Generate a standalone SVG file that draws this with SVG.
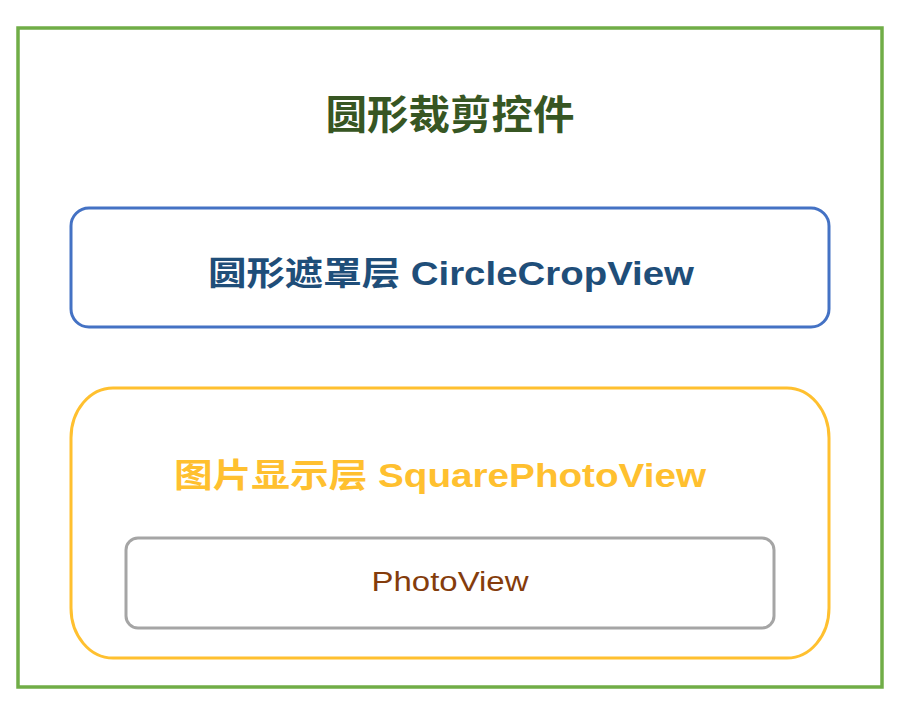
<svg xmlns="http://www.w3.org/2000/svg" width="902" height="724" viewBox="0 0 902 724">
<style>
text{font-family:"Liberation Sans","Noto Sans CJK SC",sans-serif;text-anchor:middle}
.b{font-weight:bold}
</style>
<rect width="902" height="724" fill="#fff"/>
<g id="container">
<rect x="18" y="28" width="864" height="659" fill="none" stroke="#70AD47" stroke-width="3.5"/>
<text x="450" y="129" class="b" font-size="40" fill="#375623" textLength="249" lengthAdjust="spacingAndGlyphs">圆形裁剪控件</text>
</g>
<g id="circle-crop-view">
<rect x="71" y="208" width="758" height="119" rx="18" fill="none" stroke="#4472C4" stroke-width="3"/>
<text x="451" y="285" class="b" font-size="33" fill="#1F4E79" textLength="486" lengthAdjust="spacingAndGlyphs">圆形遮罩层 CircleCropView</text>
</g>
<g id="square-photo-view">
<rect x="71" y="388" width="758" height="270" rx="42" ry="50" fill="none" stroke="#FFC02F" stroke-width="3"/>
<text x="440" y="487" class="b" font-size="33" fill="#FFC02F" textLength="532" lengthAdjust="spacingAndGlyphs">图片显示层 SquarePhotoView</text>
</g>
<g id="photo-view">
<rect x="126" y="538" width="648" height="90" rx="12" fill="none" stroke="#A5A5A5" stroke-width="3"/>
<text x="450" y="591" font-size="27" fill="#843C0C" textLength="157" lengthAdjust="spacingAndGlyphs">PhotoView</text>
</g>
<g id="connectors"/>
</svg>
